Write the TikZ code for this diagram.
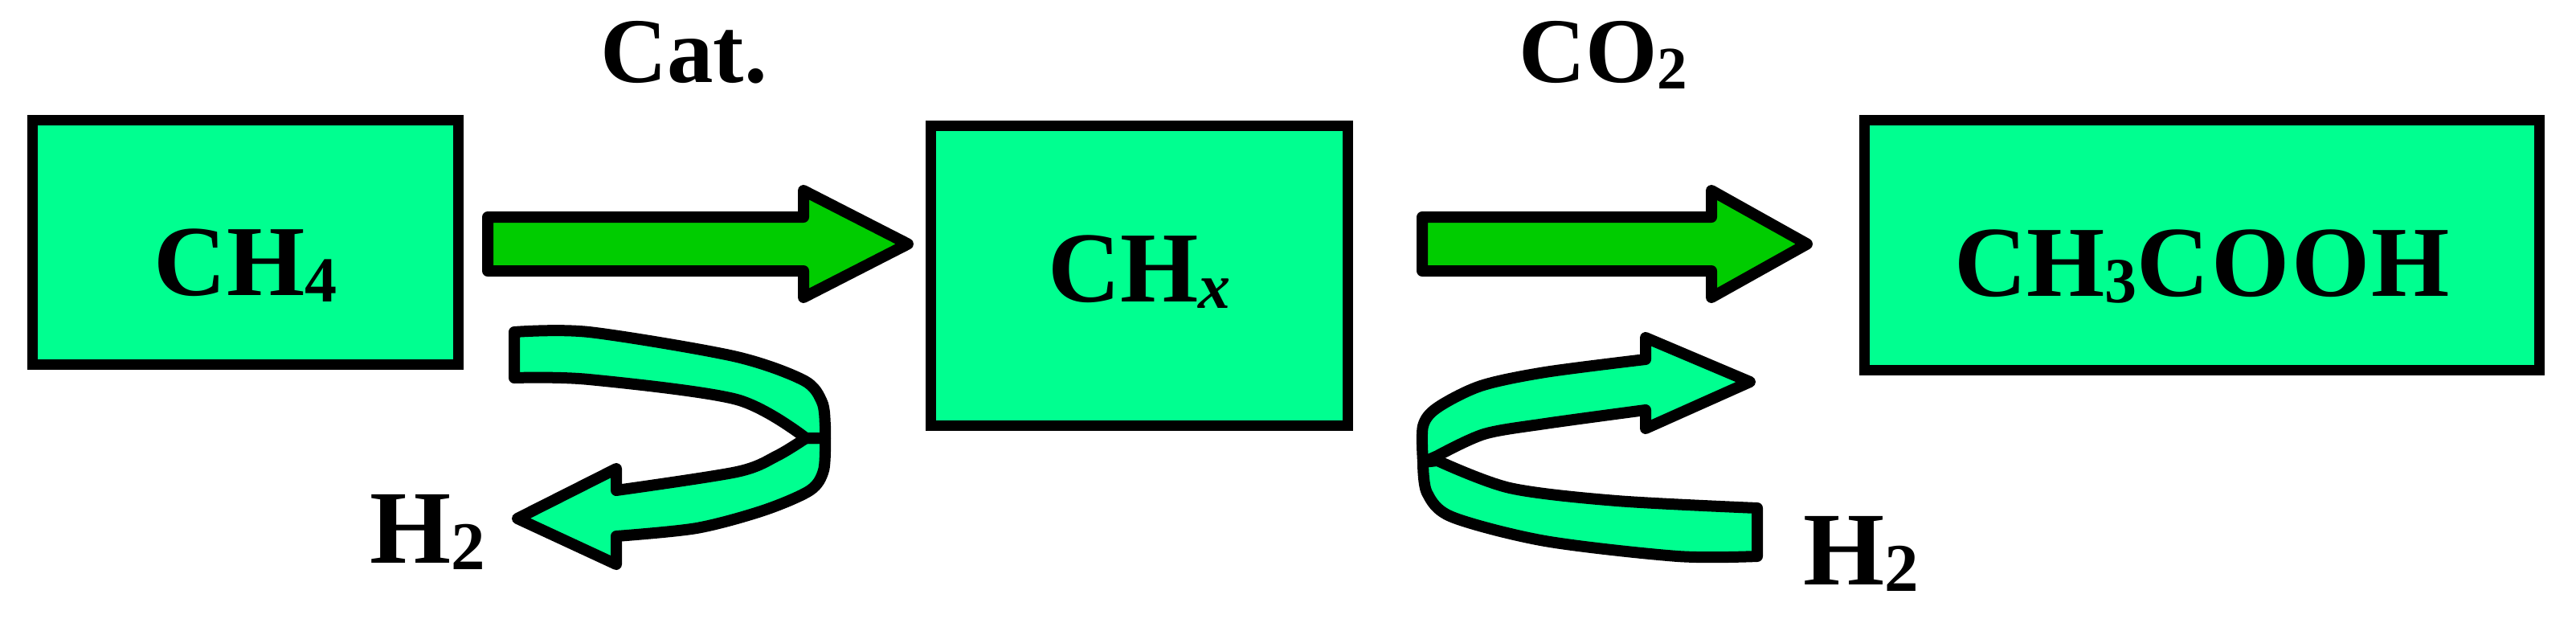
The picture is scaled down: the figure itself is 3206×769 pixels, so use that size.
\documentclass[tikz,border=0pt]{standalone}
\usepackage{fontspec}
\setmainfont{Liberation Serif}
\definecolor{boxgreen}{HTML}{00FF90}
\definecolor{arrowgreen}{HTML}{00CC00}
\newcommand{\chsub}[2][80]{\raisebox{-8pt}{\fontsize{#1}{#1}\selectfont #2}}
\begin{document}
\begin{tikzpicture}[x=1pt,y=-1pt,
  box/.style={draw=black, line width=13.5pt, fill=boxgreen, inner sep=0pt,
    font=\fontsize{125}{125}\selectfont\bfseries},
  blockarrow/.style={draw=black, line width=14pt, line join=round, fill=arrowgreen},
  ribbon/.style={draw=black, line width=14pt, line join=round, fill=boxgreen},
  lbl/.style={inner sep=0pt, font=\fontsize{115}{115}\selectfont\bfseries},
  lblh/.style={inner sep=0pt, font=\fontsize{130}{130}\selectfont\bfseries}]
\useasboundingbox (0,0) rectangle (3206,769);

% boxes
\node[box, minimum width=530pt, minimum height=304pt, text height=131pt, text depth=0pt] (ch4) at (305.5,301.5) {CH\chsub{4}};
\node[box, minimum width=519pt, minimum height=373pt, text height=64pt, text depth=0pt] (chx) at (1418,343) {CH\chsub{\textit{x}}};
\node[box, minimum width=840pt, minimum height=311pt, text height=126pt, text depth=0pt] (acid) at (2740.5,305) {CH\chsub{3}\addfontfeature{LetterSpace=2}COOH};

% straight block arrows
\filldraw[blockarrow] (607,270) -- (1000,270) -- (1000,237) -- (1130,303.5) -- (1000,370) -- (1000,337) -- (607,337) -- cycle;
\filldraw[blockarrow] (1770,270) -- (2130,270) -- (2130,237) -- (2249,303.5) -- (2130,370) -- (2130,337) -- (1770,337) -- cycle;

% curved ribbon arrow 1 (H2 out)
\filldraw[ribbon] (1003,545) -- plot[smooth] coordinates {(1027,545) (1025,585) (1008,610) (950,635) (867,657) (767,667)} -- (767,702) -- (644,645) -- (767,583) -- (767,610) -- plot[smooth] coordinates {(767,610) (917,587) (967,567) (1003,545)} -- cycle;
\filldraw[ribbon] (640,413) -- plot[smooth] coordinates {(640,413) (733,413) (913,443) (1000,473) (1023,500) (1027,530) (1027,545)} -- (1003,545) -- plot[smooth] coordinates {(1003,545) (917,497) (733,472) (640,470)} -- cycle;

% curved ribbon arrow 2 (H2 in)
\filldraw[ribbon] (2187,632) -- (2187,692) -- plot[smooth] coordinates {(2187,692) (2088,692) (1923,673) (1807,643) (1776,613) (1771,575)} -- (1789,573) -- plot[smooth] coordinates {(1789,573) (1879,607) (2012,623) (2187,632)} -- cycle;
\filldraw[ribbon] (1771,575) -- plot[smooth] coordinates {(1771,575) (1771,530) (1789,507) (1843,480) (1923,463) (2048,447)} -- (2048,420) -- (2178,475) -- (2048,533) -- (2048,510) -- plot[smooth] coordinates {(2048,510) (1923,527) (1847,540) (1789,567)} -- cycle;

% labels
\node[lbl, anchor=base east] (cat) at (955,102) {Cat.};
\node[lbl, anchor=base west] (co2) at (1890,102) {CO\chsub[75]{2}};
\node[lblh, anchor=base west] (h2a) at (460,700) {H\chsub[85]{2}};
\node[lblh, anchor=base west] (h2b) at (2244,727) {H\chsub[85]{2}};
\end{tikzpicture}
\end{document}
